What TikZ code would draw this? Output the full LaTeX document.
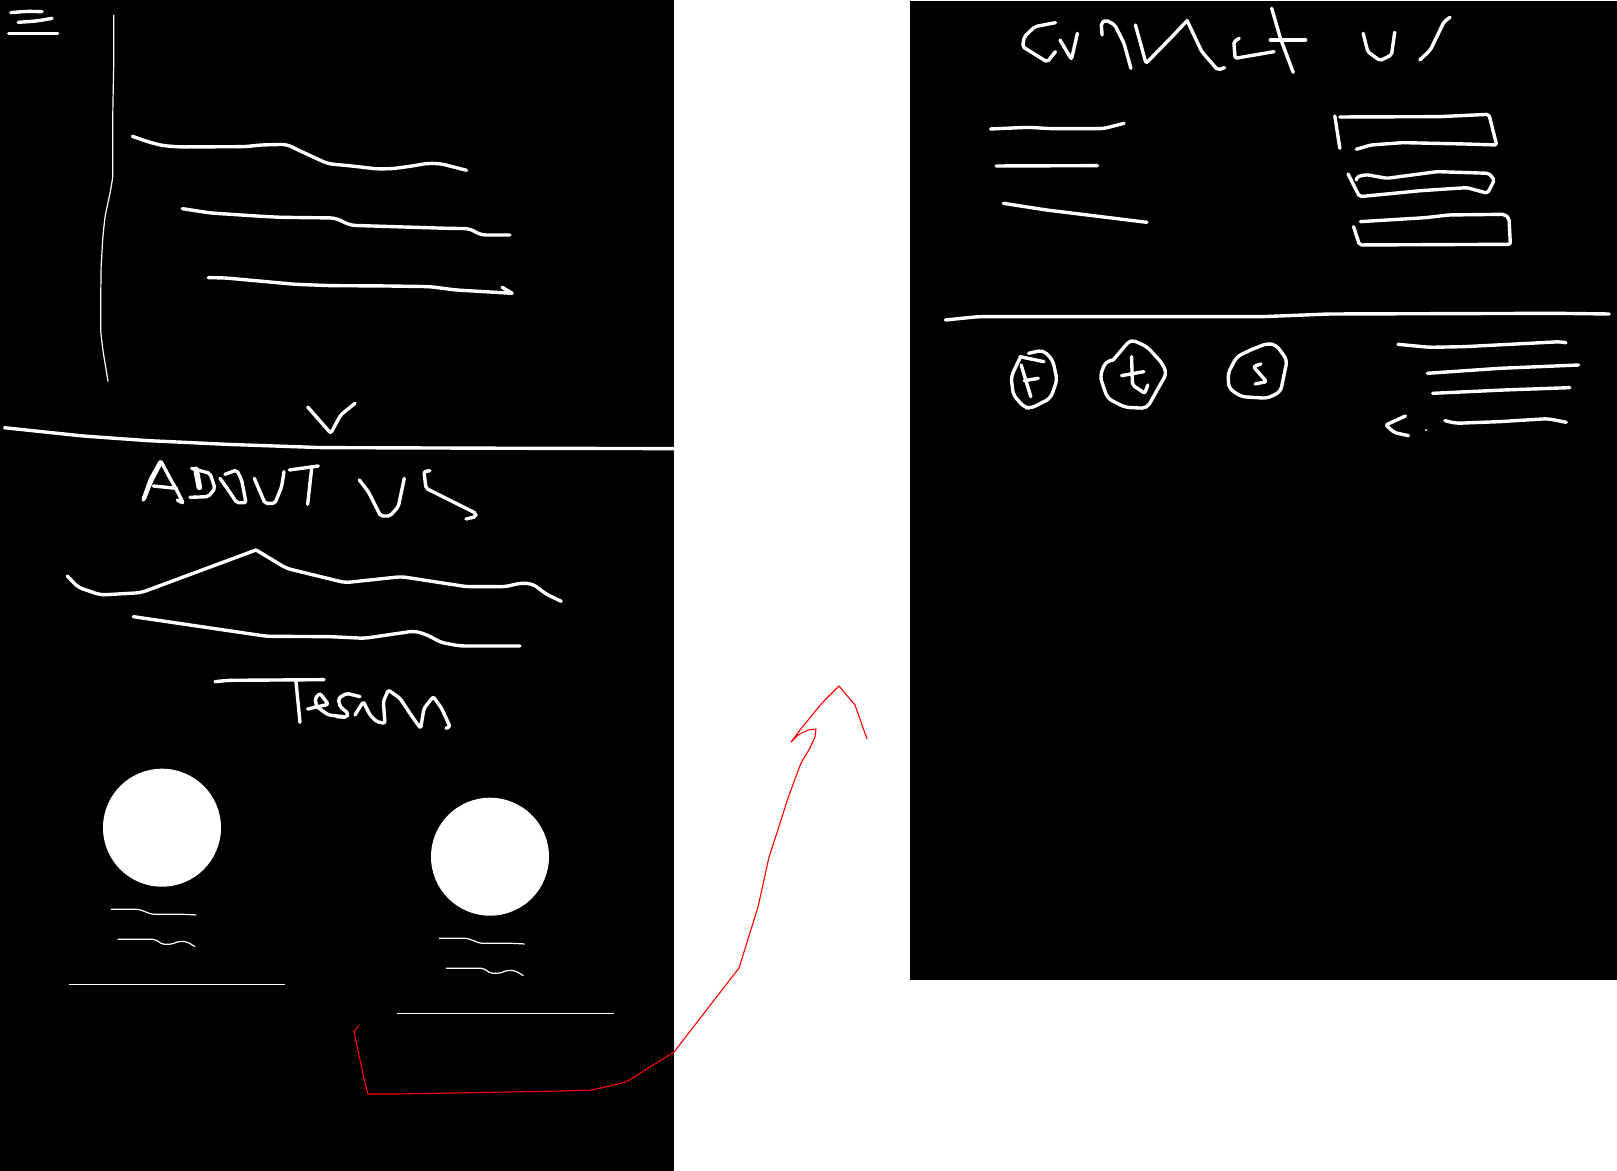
\documentclass[tikz,border=0pt]{standalone}
\tikzset{
  ink/.style={draw=white,line width=1.7pt,line cap=round,line join=round,rounded corners=2.5pt},
  glyph/.style={ink,rounded corners=1pt},
  thinink/.style={draw=white,line width=0.6pt,line cap=butt,line join=round,rounded corners=1pt},
  redink/.style={draw=red,line width=0.55pt,line join=round},
  panel/.style={fill=black,draw=none},
  crop/.style n args={4}{shift={(#1,#2)},xscale=#3,yscale=#4}
}
\begin{document}
\begin{tikzpicture}[x=0.5pt,y=-0.5pt]
\useasboundingbox (0,0) rectangle (1617,1171);
\fill[white] (0,0) rectangle (1617,1171);
\path[panel] (0,0) rectangle (674,1171);
\path[panel] (910,1) rectangle (1617,980);
% upper-left panel
\begin{scope}[crop={0}{0}{0.434}{0.3333}]
\draw[ink] (25,38)--(60,34)--(97,35);
\draw[ink] (42,67)--(85,63)--(120,55);
\draw[ink] (20,101)--(133,101);
\draw[thinink] (262,45)--(262,195)--(260,330)--(260,530)--(255,570)--(242,650)--(237,710)--(233,800)--(232,900)--(232,995)--(237,1050)--(249,1145);
\draw[ink] (305,409)--(340,425)--(375,437)--(415,441)--(565,440)--(600,435)--(660,433)--(690,452)--(755,491)--(810,498)--(870,507)--(905,506)--(950,498)--(985,490)--(1015,491)--(1075,511);
\draw[ink] (420,626)--(485,639)--(590,648)--(645,652)--(772,654)--(808,676)--(905,680)--(1030,685)--(1082,686)--(1108,705)--(1175,705);
\draw[ink] (480,833)--(520,834)--(680,853)--(760,857)--(890,858)--(990,860)--(1050,870)--(1180,880);
\draw[ink] (1180,880)--(1157,862);
\draw[glyph] (709,1221)--(762,1300)--(785,1245)--(818,1210);
\draw[ink,line cap=butt] (8,1283)--(190,1308)--(340,1322)--(520,1333)--(740,1343)--(1200,1345)--(1553,1346);
\end{scope}
% ABOUT US
\begin{scope}[crop={120}{450}{0.3333}{0.3333}]
\draw[glyph] (70,150)--(90,90)--(122,32)--(150,85)--(170,120)--(190,160)--(172,150);
\draw[glyph,line width=2.2pt] (72,145)--(92,95)--(118,45);
\draw[glyph] (100,108)--(170,115);
\draw[glyph,line width=2.8pt] (228,58)--(238,112);
\draw[glyph] (215,55)--(270,70)--(285,115)--(265,140)--(210,142);
\draw[glyph] (315,73)--(350,60)--(365,90)--(378,158)--(350,158)--(325,120)--(300,85);
\draw[glyph] (403,85)--(435,160)--(465,160)--(485,110)--(492,65);
\draw[glyph] (508,60)--(595,48);
\draw[glyph] (575,55)--(563,163);
\draw[glyph] (718,90)--(745,125)--(782,198)--(810,198)--(835,170)--(853,85);
\draw[glyph] (930,62)--(912,65)--(918,115)--(1068,190)--(1068,200)--(1038,207);
\end{scope}
\begin{scope}[crop={0}{440}{0.434}{0.3333}]
\draw[ink] (155,408)--(180,442)--(232,465)--(325,458)--(590,330);
\draw[ink] (590,330)--(660,385)--(795,428)--(925,410)--(1075,440)--(1165,440)--(1200,429)--(1228,432)--(1258,462)--(1293,484);
\draw[ink] (307,530)--(615,589)--(760,590)--(840,595)--(955,573)--(985,585)--(1015,607)--(1060,618)--(1198,618);
\end{scope}
% Team
\begin{scope}[crop={200}{665}{0.3333}{0.3333}]
\draw[ink] (45,50)--(85,46)--(372,44);
\draw[ink] (288,50)--(300,172);
\draw[glyph] (323,132)--(385,118)--(360,85)--(345,100)--(350,125)--(385,150)--(430,155);
\draw[glyph] (480,95)--(440,85)--(415,100)--(420,125)--(445,145)--(440,157)--(410,155);
\draw[glyph] (465,150)--(490,110)--(510,150)--(530,170)--(555,175)--(550,110)--(565,75)--(600,100)--(640,160)--(662,190)--(672,130)--(700,95)--(725,130)--(750,185)--(738,190);
\end{scope}
% team members
\fill[white] (162,827.7) circle (59);
\fill[white] (490,856.7) circle (59);
\begin{scope}[crop={0}{750}{0.574}{0.3333}]
\draw[thinink] (193,478)--(242,478)--(265,493)--(322,493)--(342,495);
\draw[thinink] (205,568)--(270,568)--(283,583)--(298,583)--(312,574)--(325,575)--(340,590);
\draw[thinink] (120,703)--(497,703);
\draw[thinink] (765,565)--(814,565)--(837,580)--(894,580)--(914,582);
\draw[thinink] (777,655)--(842,655)--(855,670)--(870,670)--(884,661)--(897,662)--(912,677);
\draw[thinink] (692,790)--(1069,790);
\end{scope}
% red arrow
\draw[redink] (359,1025)--(354,1032)--(365,1083)--(368,1094)--(396,1094)--(563,1091)--(592,1090)--(626,1082)--(674,1052)--(739,968)--(758,907)--(769,857)--(772,848)--(782,817)--(788,798)--(801,763)--(810,748)--(815,737)--(816,729)--(808,730)--(798,735)--(791,742)--(800,730)--(822,703)--(839,686)--(855,705)--(867,739);
% contact panel
\begin{scope}[crop={900}{0}{0.4572}{0.3333}]
\draw[glyph] (340,68)--(295,80)--(272,110)--(268,140)--(322,186)--(340,155);
\draw[glyph] (350,120)--(375,178)--(388,100);
\draw[glyph] (442,105)--(440,70)--(450,60)--(470,75)--(490,130)--(505,205);
\draw[glyph] (515,75)--(538,190)--(595,110)--(628,62);
\draw[glyph] (628,62)--(660,155)--(695,210)--(710,203);
\draw[glyph] (742,115)--(730,125)--(733,175)--(818,155);
\draw[glyph] (813,25)--(832,115)--(860,217);
\draw[glyph] (810,120)--(887,120);
\draw[glyph] (1013,100)--(1023,155)--(1050,182)--(1075,165)--(1082,97);
\draw[glyph] (1203,52)--(1190,65)--(1160,150)--(1137,180);
\draw[ink] (198,387)--(280,382)--(330,386)--(445,386)--(490,370);
\draw[ink] (210,498)--(432,497);
\draw[ink] (226,610)--(320,630)--(540,667);
\draw[glyph] (951,348)--(962,445);
\draw[glyph] (962,351)--(1180,350)--(1288,343)--(1305,435)--(1235,432)--(1100,428)--(1030,435)--(998,448);
\draw[glyph] (980,522)--(1005,590)--(1140,572)--(1240,563)--(1285,580)--(1300,540)--(1288,520)--(1175,515)--(1065,535)--(1020,524)--(1000,530)--(998,540);
\draw[glyph] (1007,665)--(1150,653)--(1200,645)--(1322,643)--(1332,655)--(1335,733)--(1005,735)--(992,680);
\end{scope}
\begin{scope}[crop={930}{290}{0.4382}{0.3333}]
\draw[ink] (35,90)--(110,80)--(760,80)--(910,72)--(1430,70)--(1550,72);
\draw[ink] (205,205)--(185,260)--(190,315)--(215,352)--(230,355)--(275,325)--(290,270)--(280,210)--(258,180)--(225,190);
\draw[glyph] (205,200)--(260,215);
\draw[glyph] (208,225)--(230,320);
\draw[glyph] (215,272)--(247,265);
\draw[ink] (418,210)--(458,148)--(495,170)--(530,220)--(540,250)--(495,355)--(445,352)--(405,325)--(388,260)--(400,215)--(418,210);
\draw[glyph] (460,200)--(462,285)--(490,310)--(497,285);
\draw[glyph] (437,257)--(488,245);
\draw[ink] (735,178)--(700,200)--(680,250)--(682,295)--(710,320)--(770,325)--(800,305)--(815,210)--(790,165)--(770,160)--(735,178);
\draw[glyph] (755,222)--(738,230)--(768,275)--(742,282);
\draw[ink] (1068,163)--(1140,172)--(1220,170)--(1440,155)--(1450,158);
\draw[ink] (1135,250)--(1300,235)--(1480,225);
\draw[ink] (1147,310)--(1310,300)--(1460,293);
\draw[ink] (1175,392)--(1200,400)--(1300,395)--(1410,386)--(1452,397);
\draw[glyph] (1085,378)--(1040,405)--(1060,428)--(1092,437);
\fill[white] (1132,420) circle (3);
\end{scope}
\end{tikzpicture}
\end{document}
